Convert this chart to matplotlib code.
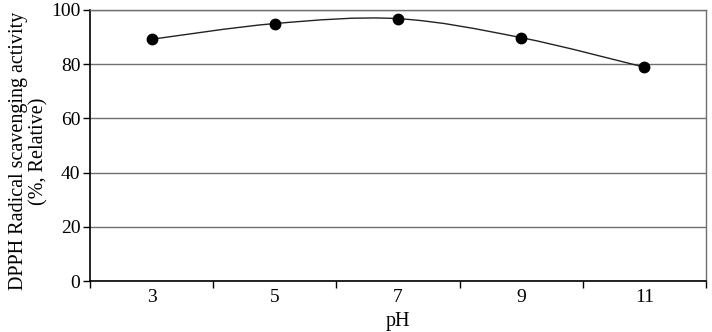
import matplotlib.pyplot as plt
from matplotlib.path import Path
from matplotlib.patches import PathPatch

ph_labels = ['3', '5', '7', '9', '11']
activity = [89.2, 95.0, 96.8, 89.8, 78.9]

plt.rcParams['font.family'] = ['Liberation Serif', 'DejaVu Serif']

fig = plt.figure(figsize=(7.12, 3.32), dpi=100)
ax = fig.add_axes([90 / 712, 1 - 281 / 332, 616 / 712, 271 / 332])

x = list(range(len(activity)))

# Excel-like smoothed line: cubic Bezier through the points (Catmull-Rom controls)
pts = list(zip(x, activity))
verts = [pts[0]]
codes = [Path.MOVETO]
n = len(pts)
for i in range(n - 1):
    p0 = pts[i - 1] if i > 0 else pts[i]
    p1 = pts[i]
    p2 = pts[i + 1]
    p3 = pts[i + 2] if i + 2 < n else pts[i + 1]
    c1 = (p1[0] + (p2[0] - p0[0]) / 6, p1[1] + (p2[1] - p0[1]) / 6)
    c2 = (p2[0] - (p3[0] - p1[0]) / 6, p2[1] - (p3[1] - p1[1]) / 6)
    verts += [c1, c2, p2]
    codes += [Path.CURVE4] * 3
ax.add_patch(PathPatch(Path(verts, codes), facecolor='none', edgecolor='#222222', lw=1.0, zorder=3))
ax.plot(x, activity, linestyle='none', marker='o', markersize=7.5, color='black', zorder=4)

ax.set_xlim(-0.5, len(activity) - 0.5)
ax.set_ylim(0, 100)
ax.set_yticks([0, 20, 40, 60, 80, 100])
ax.yaxis.grid(True, color='#707070', lw=1.0)
ax.set_axisbelow(True)

ax.set_xticks(x)
ax.set_xticklabels(ph_labels)
ax.tick_params(axis='x', which='major', length=0, pad=6, labelsize=14)
ax.set_xticks([i - 0.5 for i in range(len(activity) + 1)], minor=True)
ax.tick_params(axis='x', which='minor', length=5, width=1, color='black', direction='out')
ax.tick_params(axis='y', length=5, width=1, color='black', direction='out', labelsize=14, pad=2)

for side in ['top', 'right']:
    ax.spines[side].set_color('#707070')
    ax.spines[side].set_linewidth(1.0)
for side in ['left', 'bottom']:
    ax.spines[side].set_color('black')
    ax.spines[side].set_linewidth(1.2)

ax.set_xlabel('pH', fontsize=14.5)
ax.xaxis.set_label_coords(0.5, -0.114)
ax.set_ylabel('DPPH Radical scavenging activity\n(%, Relative)', fontsize=14.5, linespacing=1.05)
ax.yaxis.set_label_coords(-0.068, 0.48)

fig.savefig('out.png', dpi=100)
